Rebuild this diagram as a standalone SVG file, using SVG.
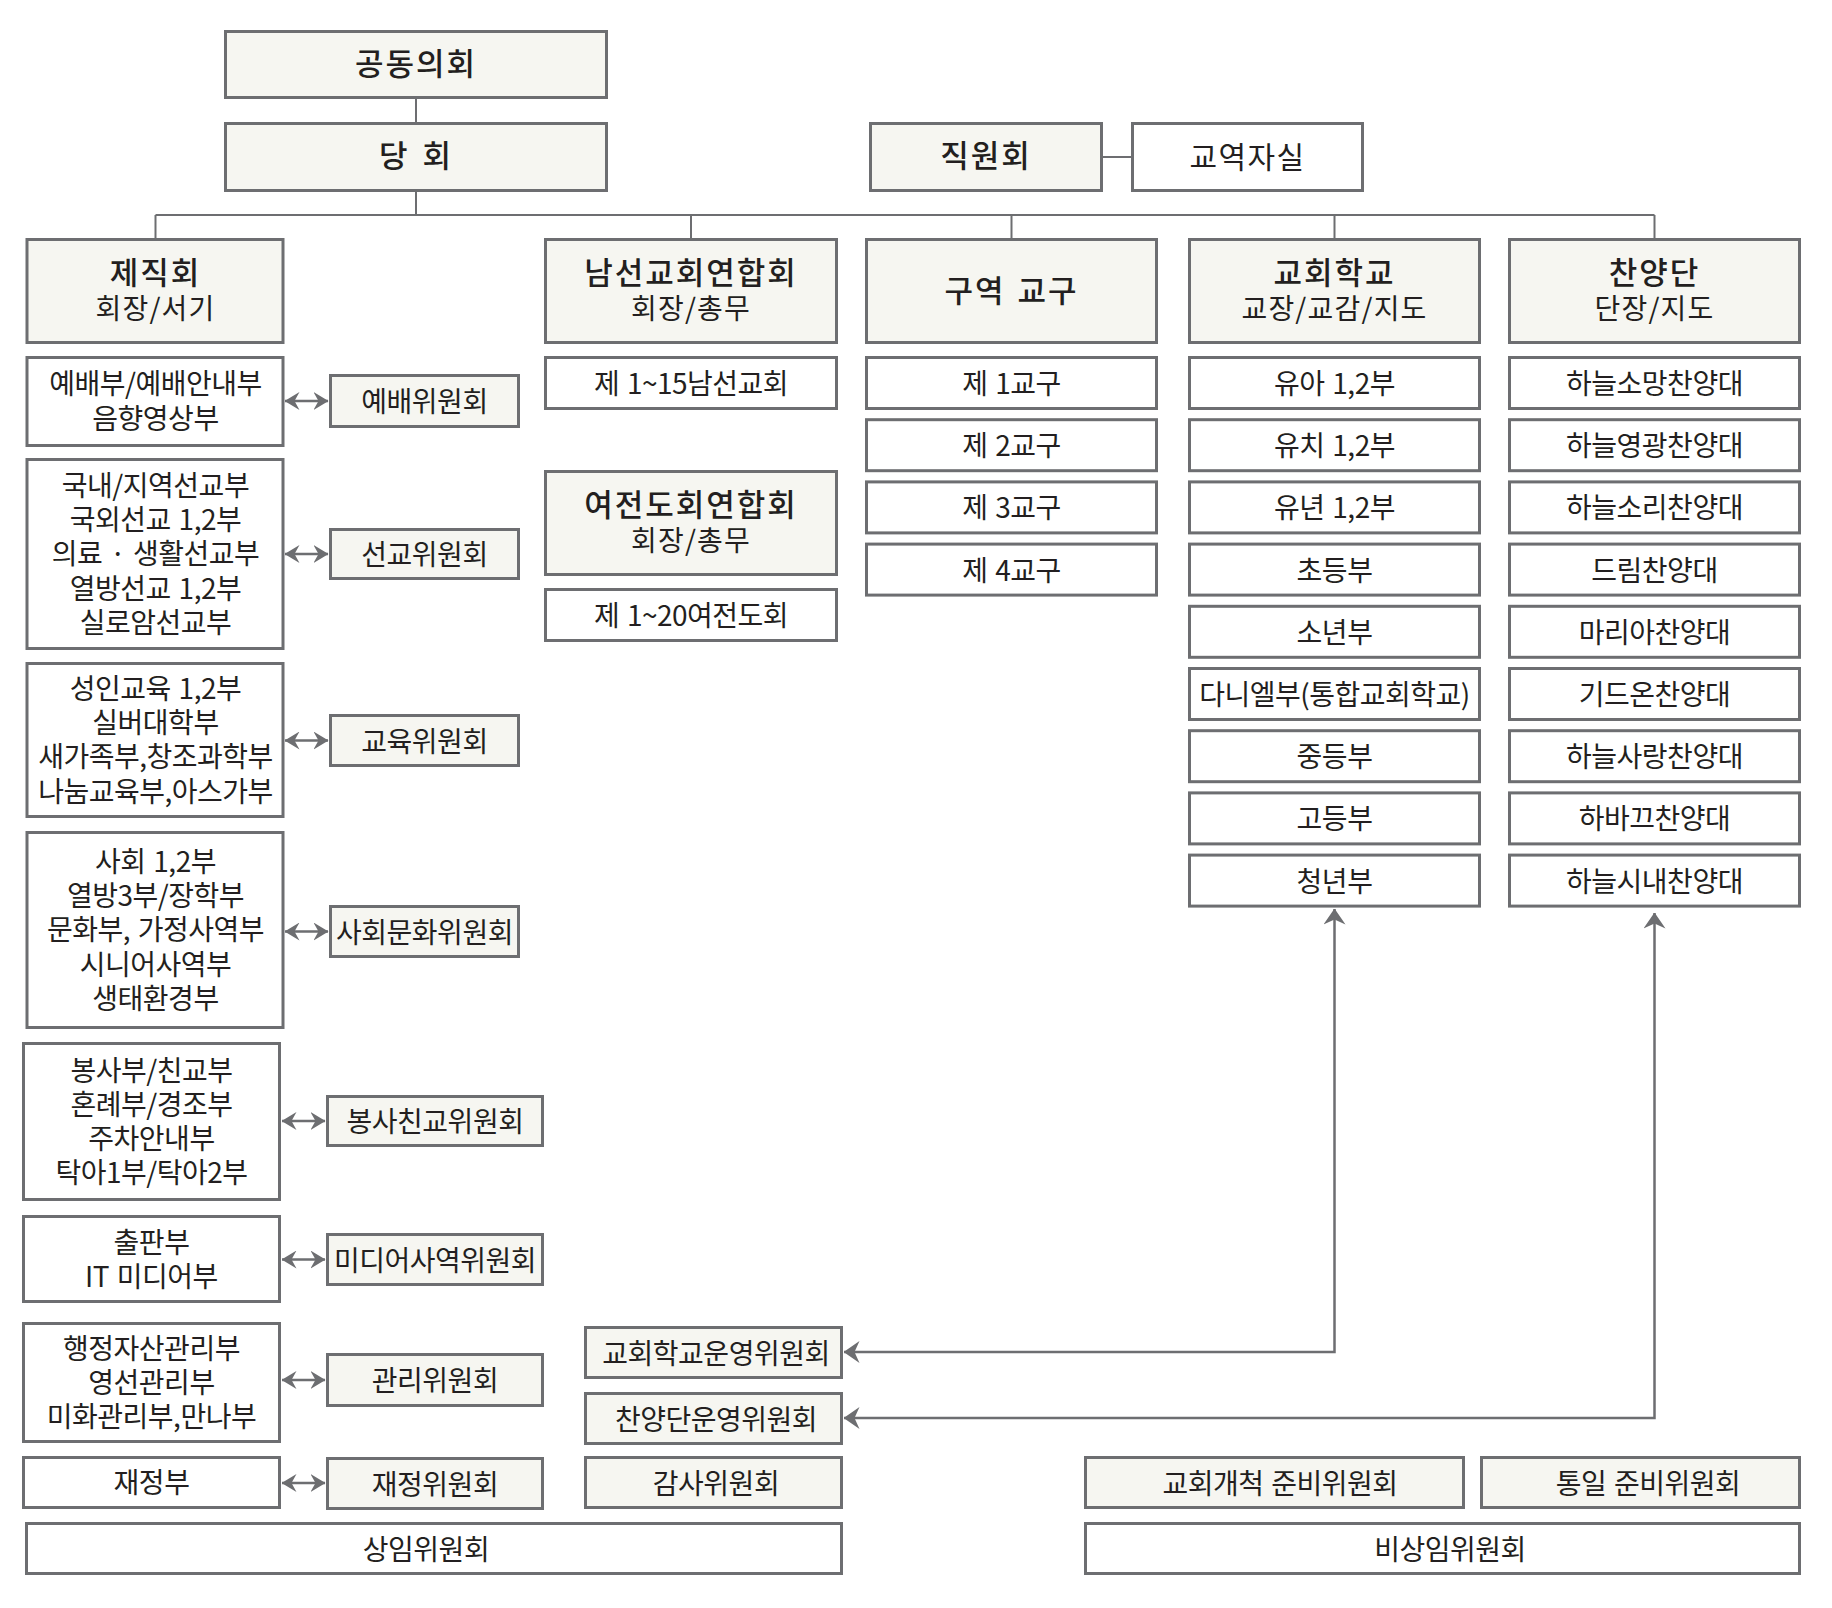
<svg xmlns="http://www.w3.org/2000/svg" width="1832" height="1608" viewBox="0 0 1832 1608">
<style>
.b{fill:#ffffff;stroke:#6d6e71;stroke-width:3}
.h{fill:#f6f6f1;stroke:#6d6e71;stroke-width:3}
text{font-family:"Noto Sans CJK KR","Noto Sans",sans-serif;font-size:28px;fill:#231f20;text-anchor:middle;dominant-baseline:central;letter-spacing:-0.5px;word-spacing:2px}
.tt{font-size:31px;font-weight:500;letter-spacing:2px;word-spacing:4px}
.ht{font-size:31px;font-weight:500;letter-spacing:2px;word-spacing:3px}
.st{font-size:28px;font-weight:400;letter-spacing:1.2px}
.w{font-size:30px;letter-spacing:1.4px}
.c{stroke:#6d6e71;stroke-width:2;fill:none}
.a{stroke:#6d6e71;stroke-width:2.5;fill:none;marker-start:url(#ah);marker-end:url(#ah)}
.L{stroke:#6d6e71;stroke-width:2.5;fill:none;marker-start:url(#al);marker-end:url(#al)}
</style>
<defs>
<marker id="ah" viewBox="0 0 15 18" refX="14.5" refY="9" markerWidth="15" markerHeight="18" markerUnits="userSpaceOnUse" orient="auto-start-reverse">
<path d="M0,0 L15,9 L0,18 L5,9 Z" fill="#6d6e71"/>
</marker>
<marker id="al" viewBox="0 0 16 22" refX="15.5" refY="11" markerWidth="16" markerHeight="22" markerUnits="userSpaceOnUse" orient="auto-start-reverse">
<path d="M0,0 L16,11 L0,22 L5,11 Z" fill="#6d6e71"/>
</marker>
</defs>
<rect width="1832" height="1608" fill="#ffffff"/>

<g id="connectors">
<path class="c" d="M416,99 V122"/>
<path class="c" d="M416,192 V215"/>
<path class="c" d="M155.5,215 H1654.5"/>
<path class="c" d="M155.5,215 V238"/>
<path class="c" d="M691,215 V238"/>
<path class="c" d="M1011.5,215 V238"/>
<path class="c" d="M1334.5,215 V238"/>
<path class="c" d="M1654.5,215 V238"/>
<path class="c" d="M1103,157 H1131"/>
<path class="a" d="M285,401 H328"/>
<path class="a" d="M285,554 H328"/>
<path class="a" d="M285,740.5 H328"/>
<path class="a" d="M285,931.5 H328"/>
<path class="a" d="M282,1121 H325"/>
<path class="a" d="M282,1259.5 H325"/>
<path class="a" d="M282,1380 H325"/>
<path class="a" d="M282,1483 H325"/>
<path class="L" d="M844,1352 H1334.5 V909"/>
<path class="L" d="M844,1418 H1654.5 V913"/>
</g>

<g id="n-gongdong"><rect class="h" x="225.5" y="31.5" width="381" height="66"/><text class="tt" x="416" y="61">공동의회</text></g>
<g id="n-danghoe"><rect class="h" x="225.5" y="123.5" width="381" height="67"/><text class="tt" x="416" y="153">당 회</text></g>
<g id="n-jigwon"><rect class="h" x="870.5" y="123.5" width="231" height="67"/><text class="tt" x="986" y="153">직원회</text></g>
<g id="n-gyoyeok"><rect class="b" x="1132.5" y="123.5" width="230" height="67"/><text class="w" x="1247.5" y="155">교역자실</text></g>

<g id="n-jejik"><rect class="h" x="27" y="239.5" width="256" height="103"/><text class="ht" x="155.5" y="270">제직회</text><text class="st" x="155.5" y="307">회장/서기</text></g>
<g id="n-namseon"><rect class="h" x="545.5" y="239.5" width="291" height="103"/><text class="ht" x="691" y="270">남선교회연합회</text><text class="st" x="691" y="307">회장/총무</text></g>
<g id="n-guyeok"><rect class="h" x="866.5" y="239.5" width="290" height="103"/><text class="ht" x="1011.5" y="288">구역 교구</text></g>
<g id="n-school"><rect class="h" x="1189.5" y="239.5" width="290" height="103"/><text class="ht" x="1334.5" y="270">교회학교</text><text class="st" x="1334.5" y="307">교장/교감/지도</text></g>
<g id="n-choir"><rect class="h" x="1509.5" y="239.5" width="290" height="103"/><text class="ht" x="1654.5" y="270">찬양단</text><text class="st" x="1654.5" y="307">단장/지도</text></g>

<g id="n-namseon-1"><rect class="b" x="545.5" y="357.5" width="291" height="51"/><text x="691" y="382">제 1~15남선교회</text></g>
<g id="n-yeojeon"><rect class="h" x="545.5" y="471.5" width="291" height="103"/><text class="ht" x="691" y="502">여전도회연합회</text><text class="st" x="691" y="539">회장/총무</text></g>
<g id="n-yeojeon-1"><rect class="b" x="545.5" y="589.5" width="291" height="51"/><text x="691" y="614">제 1~20여전도회</text></g>

<g id="n-gu1"><rect class="b" x="866.5" y="357.5" width="290" height="51"/><text x="1011.5" y="382">제 1교구</text></g>
<g id="n-gu2"><rect class="b" x="866.5" y="419.7" width="290" height="51"/><text x="1011.5" y="444.2">제 2교구</text></g>
<g id="n-gu3"><rect class="b" x="866.5" y="481.9" width="290" height="51"/><text x="1011.5" y="506.4">제 3교구</text></g>
<g id="n-gu4"><rect class="b" x="866.5" y="544.1" width="290" height="51"/><text x="1011.5" y="568.6">제 4교구</text></g>

<g id="n-s1"><rect class="b" x="1189.5" y="357.5" width="290" height="51"/><text x="1334.5" y="382">유아 1,2부</text></g>
<g id="n-s2"><rect class="b" x="1189.5" y="419.7" width="290" height="51"/><text x="1334.5" y="444.2">유치 1,2부</text></g>
<g id="n-s3"><rect class="b" x="1189.5" y="481.9" width="290" height="51"/><text x="1334.5" y="506.4">유년 1,2부</text></g>
<g id="n-s4"><rect class="b" x="1189.5" y="544.1" width="290" height="51"/><text x="1334.5" y="568.6">초등부</text></g>
<g id="n-s5"><rect class="b" x="1189.5" y="606.3" width="290" height="51"/><text x="1334.5" y="630.8">소년부</text></g>
<g id="n-s6"><rect class="b" x="1189.5" y="668.5" width="290" height="51"/><text x="1334.5" y="693">다니엘부(통합교회학교)</text></g>
<g id="n-s7"><rect class="b" x="1189.5" y="730.7" width="290" height="51"/><text x="1334.5" y="755.2">중등부</text></g>
<g id="n-s8"><rect class="b" x="1189.5" y="792.9" width="290" height="51"/><text x="1334.5" y="817.4">고등부</text></g>
<g id="n-s9"><rect class="b" x="1189.5" y="855.1" width="290" height="51"/><text x="1334.5" y="879.6">청년부</text></g>

<g id="n-c1"><rect class="b" x="1509.5" y="357.5" width="290" height="51"/><text x="1654.5" y="382">하늘소망찬양대</text></g>
<g id="n-c2"><rect class="b" x="1509.5" y="419.7" width="290" height="51"/><text x="1654.5" y="444.2">하늘영광찬양대</text></g>
<g id="n-c3"><rect class="b" x="1509.5" y="481.9" width="290" height="51"/><text x="1654.5" y="506.4">하늘소리찬양대</text></g>
<g id="n-c4"><rect class="b" x="1509.5" y="544.1" width="290" height="51"/><text x="1654.5" y="568.6">드림찬양대</text></g>
<g id="n-c5"><rect class="b" x="1509.5" y="606.3" width="290" height="51"/><text x="1654.5" y="630.8">마리아찬양대</text></g>
<g id="n-c6"><rect class="b" x="1509.5" y="668.5" width="290" height="51"/><text x="1654.5" y="693">기드온찬양대</text></g>
<g id="n-c7"><rect class="b" x="1509.5" y="730.7" width="290" height="51"/><text x="1654.5" y="755.2">하늘사랑찬양대</text></g>
<g id="n-c8"><rect class="b" x="1509.5" y="792.9" width="290" height="51"/><text x="1654.5" y="817.4">하바끄찬양대</text></g>
<g id="n-c9"><rect class="b" x="1509.5" y="855.1" width="290" height="51"/><text x="1654.5" y="879.6">하늘시내찬양대</text></g>

<g id="n-worship"><rect class="b" x="27" y="357.5" width="256" height="88"/><text x="155.5" y="382"><tspan x="155.5">예배부/예배안내부</tspan><tspan x="155.5" dy="34.5">음향영상부</tspan></text></g>
<g id="n-mission"><rect class="b" x="27" y="459.5" width="256" height="189"/><text x="155.5" y="484"><tspan x="155.5">국내/지역선교부</tspan><tspan x="155.5" dy="34.2">국외선교 1,2부</tspan><tspan x="155.5" dy="34.2">의료 · 생활선교부</tspan><tspan x="155.5" dy="34.2">열방선교 1,2부</tspan><tspan x="155.5" dy="34.2">실로암선교부</tspan></text></g>
<g id="n-edu"><rect class="b" x="27" y="663.5" width="256" height="153"/><text x="155.5" y="687"><tspan x="155.5">성인교육 1,2부</tspan><tspan x="155.5" dy="34.2">실버대학부</tspan><tspan x="155.5" dy="34.2">새가족부,창조과학부</tspan><tspan x="155.5" dy="34.2">나눔교육부,아스가부</tspan></text></g>
<g id="n-social"><rect class="b" x="27" y="832.5" width="256" height="195"/><text x="155.5" y="860"><tspan x="155.5">사회 1,2부</tspan><tspan x="155.5" dy="34.2">열방3부/장학부</tspan><tspan x="155.5" dy="34.2">문화부, 가정사역부</tspan><tspan x="155.5" dy="34.2">시니어사역부</tspan><tspan x="155.5" dy="34.2">생태환경부</tspan></text></g>
<g id="n-service"><rect class="b" x="23.5" y="1043.5" width="256" height="156"/><text x="151.5" y="1068.5"><tspan x="151.5">봉사부/친교부</tspan><tspan x="151.5" dy="34.2">혼례부/경조부</tspan><tspan x="151.5" dy="34.2">주차안내부</tspan><tspan x="151.5" dy="34.2">탁아1부/탁아2부</tspan></text></g>
<g id="n-publish"><rect class="b" x="23.5" y="1216.5" width="256" height="85"/><text x="151.5" y="1240.5"><tspan x="151.5">출판부</tspan><tspan x="151.5" dy="34.2">IT 미디어부</tspan></text></g>
<g id="n-admin"><rect class="b" x="23.5" y="1323.5" width="256" height="118"/><text x="151.5" y="1346.5"><tspan x="151.5">행정자산관리부</tspan><tspan x="151.5" dy="34.2">영선관리부</tspan><tspan x="151.5" dy="34.2">미화관리부,만나부</tspan></text></g>
<g id="n-finance"><rect class="b" x="23.5" y="1457.5" width="256" height="50"/><text x="151.5" y="1481">재정부</text></g>

<g id="n-cm-worship"><rect class="h" x="330.5" y="375.5" width="188" height="51"/><text x="424.5" y="400">예배위원회</text></g>
<g id="n-cm-mission"><rect class="h" x="330.5" y="529.5" width="188" height="49"/><text x="424.5" y="553">선교위원회</text></g>
<g id="n-cm-edu"><rect class="h" x="330.5" y="715.5" width="188" height="50"/><text x="424.5" y="739.5">교육위원회</text></g>
<g id="n-cm-social"><rect class="h" x="330.5" y="906.5" width="188" height="50"/><text x="424.5" y="930.5">사회문화위원회</text></g>
<g id="n-cm-service"><rect class="h" x="327.5" y="1096.5" width="215" height="49"/><text x="435" y="1120">봉사친교위원회</text></g>
<g id="n-cm-media"><rect class="h" x="327.5" y="1234.5" width="215" height="50"/><text x="435" y="1258.5">미디어사역위원회</text></g>
<g id="n-cm-admin"><rect class="h" x="327.5" y="1354.5" width="215" height="51"/><text x="435" y="1379">관리위원회</text></g>
<g id="n-cm-finance"><rect class="h" x="327.5" y="1458.5" width="215" height="50"/><text x="435" y="1482.5">재정위원회</text></g>

<g id="n-cm-school"><rect class="h" x="585.5" y="1327.5" width="256" height="50"/><text x="716" y="1351.5">교회학교운영위원회</text></g>
<g id="n-cm-choir"><rect class="h" x="585.5" y="1393.5" width="256" height="50"/><text x="716" y="1417.5">찬양단운영위원회</text></g>
<g id="n-cm-audit"><rect class="h" x="585.5" y="1457.5" width="256" height="50"/><text x="716" y="1481.5">감사위원회</text></g>
<g id="n-standing"><rect class="b" x="26.5" y="1523.5" width="815" height="50"/><text x="426" y="1547.5">상임위원회</text></g>

<g id="n-cm-plant"><rect class="h" x="1085.5" y="1457.5" width="378" height="50"/><text x="1280" y="1481.5">교회개척 준비위원회</text></g>
<g id="n-cm-unify"><rect class="h" x="1481.5" y="1457.5" width="318" height="50"/><text x="1648" y="1481.5">통일 준비위원회</text></g>
<g id="n-nonstanding"><rect class="b" x="1085.5" y="1523.5" width="714" height="50"/><text x="1450" y="1547.5">비상임위원회</text></g>
</svg>
